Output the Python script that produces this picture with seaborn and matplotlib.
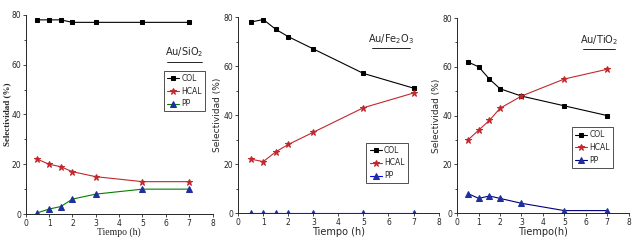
import matplotlib
matplotlib.use('Agg')
import matplotlib.pyplot as plt
import seaborn as sns
import pandas as pd

# time points (h)
tiempo = [0.5, 1, 1.5, 2, 3, 5, 7]

# Au/SiO2
sio2_col = [78, 78, 78, 77, 77, 77, 77]
sio2_hcal = [22, 20, 19, 17, 15, 13, 13]
sio2_pp = [0.5, 2, 3, 6, 8, 10, 10]

# Au/Fe2O3
fe_col = [78, 79, 75, 72, 67, 57, 51]
fe_hcal = [22, 21, 25, 28, 33, 43, 49]
fe_pp = [0, 0, 0, 0, 0, 0, 0]

# Au/TiO2
ti_col = [62, 60, 55, 51, 48, 44, 40]
ti_hcal = [30, 34, 38, 43, 48, 55, 59]
ti_pp = [8, 6, 7, 6, 4, 1, 1]

sns.set_style('ticks')
plt.rcParams['font.family'] = ['DejaVu Sans']

fig = plt.figure(figsize=(6.44, 2.48), dpi=100)
axes = [fig.add_axes([0.040, 0.137, 0.290, 0.803]),
        fig.add_axes([0.370, 0.141, 0.311, 0.790]),
        fig.add_axes([0.710, 0.141, 0.266, 0.786])]

panels = [
    (sio2_col, sio2_hcal, sio2_pp, r'Au/SiO$_2$', (6.8, 65), (0.74, 0.72), 'green', 'Tiempo (h)'),
    (fe_col, fe_hcal, fe_pp, r'Au/Fe$_2$O$_3$', (6.1, 71), (0.64, 0.36), 'blue', 'Tiempo (h)'),
    (ti_col, ti_hcal, ti_pp, r'Au/TiO$_2$', (6.6, 71), (0.67, 0.44), 'navy', 'Tiempo(h)'),
]

for i, (ax, (col, hcal, pp, name, pos, lpos, ppline, xl)) in enumerate(zip(axes, panels)):
    df = pd.DataFrame({'t': tiempo, 'COL': col, 'HCAL': hcal, 'PP': pp})
    sns.lineplot(data=df, x='t', y='COL', ax=ax, color='black', marker='s',
                 markersize=3, linewidth=0.8, markeredgecolor='black', label='COL')
    sns.lineplot(data=df, x='t', y='HCAL', ax=ax, color='#c0282d', marker='*',
                 markersize=5, linewidth=0.8, markeredgecolor='#c0282d', label='HCAL')
    sns.lineplot(data=df, x='t', y='PP', ax=ax, color=ppline, marker='^',
                 markersize=4, linewidth=0.8, markerfacecolor='#1f2f9f',
                 markeredgecolor='#1f2f9f', label='PP')
    ax.set_xlim(0, 8)
    ax.set_ylim(0, 80)
    ax.set_xticks(range(0, 9))
    ax.set_yticks([0, 20, 40, 60, 80])
    ax.set_yticks([10, 30, 50, 70], minor=True)
    ax.tick_params(labelsize=5.5, length=2.5, width=0.6, pad=1)
    ax.tick_params(which='minor', length=1.5, width=0.6)
    for s in ['left', 'bottom']:
        ax.spines[s].set_linewidth(0.7)
    sns.despine(ax=ax)
    if i == 0:
        ax.set_ylabel('Selectividad (%)', fontsize=6.5, fontweight='bold',
                      family='Liberation Serif', labelpad=0)
        ax.set_xlabel(xl, fontsize=7, family='Liberation Serif', labelpad=0)
    else:
        ax.set_ylabel('Selectividad (%)', fontsize=6.5, labelpad=1)
        ax.set_xlabel(xl, fontsize=7, labelpad=0)
    ax.text(pos[0], pos[1], name, fontsize=7, ha='center', va='center')
    ax.plot([pos[0] - 0.75, pos[0] + 0.75], [pos[1] - 3.8, pos[1] - 3.8],
            color='black', linewidth=0.6)
    leg = ax.legend(loc='upper left', bbox_to_anchor=lpos, fontsize=5.5,
                    frameon=True, fancybox=False, edgecolor='black',
                    handlelength=1.6, handletextpad=0.3, borderpad=0.4,
                    labelspacing=0.5, borderaxespad=0)
    leg.get_frame().set_linewidth(0.6)

fig.savefig('out.png', dpi=100)
